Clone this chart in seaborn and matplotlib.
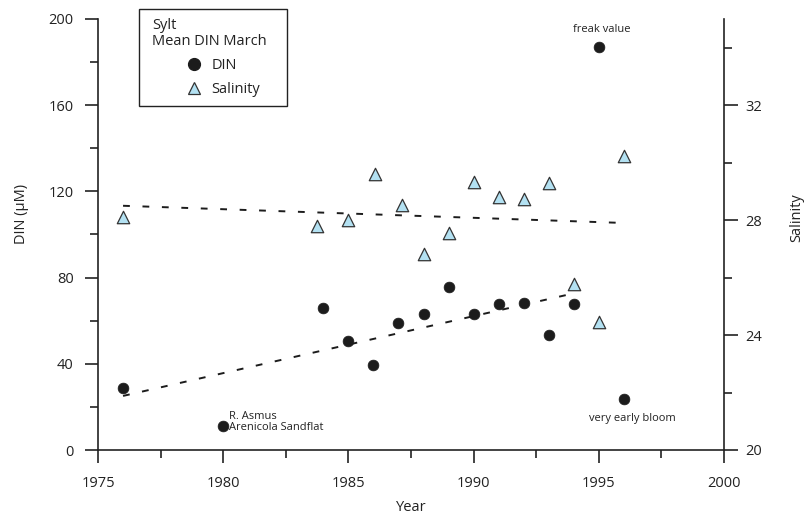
import matplotlib
matplotlib.use("Agg")
import matplotlib.pyplot as plt
import seaborn as sns
import pandas as pd
from matplotlib.ticker import MultipleLocator
from matplotlib.patches import Rectangle
from matplotlib.lines import Line2D

# values
din_years = [1976, 1980, 1984, 1985, 1986, 1987, 1988, 1989, 1990, 1991, 1992, 1993, 1994, 1995, 1996]
din_values = [28.9, 11.1, 65.7, 50.7, 39.4, 59.1, 63.0, 75.5, 63.0, 67.7, 68.4, 53.4, 67.7, 187.1, 23.7]

sal_years = [1976, 1983.75, 1985, 1986.05, 1987.15, 1988, 1989, 1990, 1991, 1992, 1993, 1994, 1995, 1996]
sal_values = [28.12, 27.8, 28.0, 29.6, 28.53, 26.82, 27.54, 29.34, 28.82, 28.72, 29.30, 25.77, 24.47, 30.23]

din_trend_years = [1976, 1994]
din_trend = [25.1, 72.7]
sal_trend_years = [1976, 1995.7]
sal_trend = [28.5, 27.91]

sns.set_style("ticks")
plt.rcParams['font.family'] = ['Open Sans', 'DejaVu Sans']
plt.rcParams['text.color'] = '#222222'
plt.rcParams['axes.labelcolor'] = '#222222'
plt.rcParams['xtick.color'] = '#222222'
plt.rcParams['ytick.color'] = '#222222'

din_df = pd.DataFrame({'Year': din_years, 'DIN': din_values})
sal_df = pd.DataFrame({'Year': sal_years, 'Salinity': sal_values})

fig = plt.figure(figsize=(8.12, 5.19), dpi=100)
ax = fig.add_axes([98/812, 1-450/519, (724-98)/812, (450-19)/519])
ax2 = ax.twinx()

dark = '#1c1c1c'
blue = '#b3e1f2'

# trend lines
ax.plot(din_trend_years, din_trend, color=dark, lw=1.4, dashes=(3.5, 6.5))
ax2.plot(sal_trend_years, sal_trend, color=dark, lw=1.4, dashes=(3.5, 6.5))

sns.scatterplot(data=din_df, x='Year', y='DIN', ax=ax, color=dark, s=60,
                edgecolor=dark, linewidth=0.5, zorder=5)
sns.scatterplot(data=sal_df, x='Year', y='Salinity', ax=ax2, marker='^', color=blue,
                s=80, edgecolor='#333333', linewidth=0.9, zorder=5)

ax.set_xlim(1975, 2000)
ax.set_ylim(0, 200)
ax2.set_ylim(20, 35)

ax.xaxis.set_major_locator(MultipleLocator(5))
ax.xaxis.set_minor_locator(MultipleLocator(2.5))
ax.yaxis.set_major_locator(MultipleLocator(40))
ax.yaxis.set_minor_locator(MultipleLocator(20))
ax2.yaxis.set_major_locator(MultipleLocator(4))
ax2.yaxis.set_minor_locator(MultipleLocator(2))

for a in (ax, ax2):
    for sp in a.spines.values():
        sp.set_linewidth(1.2)
        sp.set_color('#222222')
    a.spines['top'].set_visible(False)
ax.spines['right'].set_visible(False)
ax2.spines['left'].set_visible(False)
ax2.spines['bottom'].set_visible(False)

ax.tick_params(axis='both', which='major', length=9.5, width=1.2, labelsize=10.5, direction='out')
ax.tick_params(axis='both', which='minor', length=5.5, width=1.2, direction='out')
ax.tick_params(axis='y', which='major', pad=8)
ax.tick_params(axis='x', which='major', pad=9)
ax2.tick_params(axis='y', which='major', length=10, width=1.2, labelsize=10.5, pad=5)
ax2.tick_params(axis='y', which='minor', length=6, width=1.2)

ax.set_xlabel('Year', fontsize=10.5, labelpad=7)
ax.set_ylabel('DIN (µM)', fontsize=10.5, labelpad=14, y=0.548)
ax2.set_ylabel('Salinity', fontsize=10.5, labelpad=20, y=0.538)

# annotations
ax.text(1995.1, 195, 'freak value', fontsize=8, ha='center', va='center')
ax.text(1980.25, 13.0, 'R. Asmus\nArenicola Sandflat', fontsize=8, ha='left', va='center',
        linespacing=0.95)
ax.text(1996.35, 14.4, 'very early bloom', fontsize=8, ha='center', va='center')

# legend box
fig.patches.append(Rectangle((139/812, 1-106/519), 148/812, 97/519, transform=fig.transFigure,
                             fill=False, edgecolor='#222222', lw=1.0))
fig.text(152/812, 1-18/519, 'Sylt\nMean DIN March', fontsize=10.5, ha='left', va='top',
         linespacing=1.05)
handles = [Line2D([], [], marker='o', ls='', color=dark, markersize=8.5),
           Line2D([], [], marker='^', ls='', markerfacecolor=blue, markeredgecolor='#333333',
                  markeredgewidth=0.9, markersize=9)]
fig.legend(handles, ['DIN', 'Salinity'], loc='upper left',
           bbox_to_anchor=(185/812, 1-58/519), frameon=False, fontsize=10.5,
           handlelength=1.2, handletextpad=0.6, labelspacing=0.62, borderpad=0,
           borderaxespad=0)

fig.savefig('out.png', dpi=100)
